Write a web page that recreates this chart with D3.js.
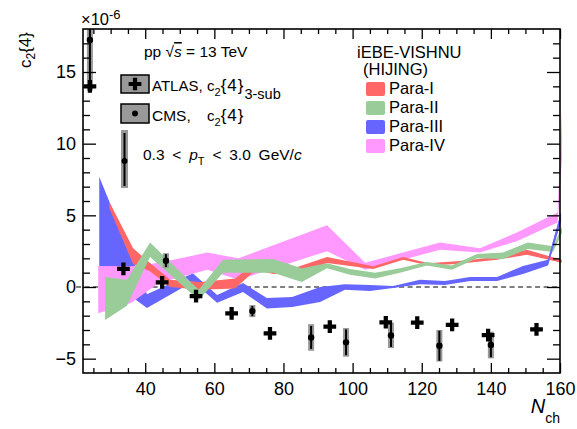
<!DOCTYPE html>
<html>
<head>
<meta charset="utf-8">
<script src="https://cdn.jsdelivr.net/npm/d3@7"></script>
<style>
  body { margin: 0; background: #fff; }
  svg { display: block; }
  text { font-family: "Liberation Sans", Arial, sans-serif; fill: #000; }
</style>
</head>
<body>
<svg id="chart" width="577" height="429"></svg>
<script>
// ---- axis ticks -------------------------------------------------------
const xMajorTicks = [40, 60, 80, 100, 120, 140, 160];
const xMinorTicks = [25, 30, 35, 45, 50, 55, 65, 70, 75, 85, 90, 95, 105, 110, 115, 125, 130, 135, 145, 150, 155];
const yMajorTicks = [-5, 0, 5, 10, 15];
const yMinorTicks = d3.range(-5, 18, 1).filter(v => v % 5 !== 0);

// ---- iEBE-VISHNU (HIJING) bands: [Nch, low, high], c2{4} in 1e-6 ----
const paraI = [
  [29.6, 5.5, 5.95], [36.5, 1.6, 2.7], [41.4, 1.1, 1.67], [47.2, 0.0, 0.5],
  [56, -0.2, 0.35], [66, -0.1, 0.6], [72, 1.2, 1.7], [77, 0.9, 1.4],
  [84, 0.9, 1.4], [92.6, 1.67, 2.1], [106, 1.25, 1.45], [114.6, 1.9, 2.1],
  [122, 1.5, 1.65], [130, 1.6, 1.8], [141.8, 1.9, 2.1], [150.4, 2.25, 2.6],
  [160.5, 1.7, 1.9]
];
const paraII = [
  [28.4, -2.3, 0.7], [34.7, -1.3, 0.5], [41.4, 2.1, 3.1], [55.5, -0.9, -0.2],
  [62.5, 1.0, 1.9], [77, 1.0, 1.95], [85.3, 0.35, 1.3], [92.6, 1.3, 1.65],
  [99.2, 0.85, 1.25], [106.5, 0.6, 1.0], [113.7, 1.0, 1.3], [121.5, 1.5, 1.75],
  [128.7, 1.2, 1.5], [136, 2.0, 2.3], [143.5, 1.95, 2.4], [150.7, 2.65, 3.1],
  [158, 2.45, 2.85], [160.6, 3.8, 4.2]
];
const paraIII = [
  [26.7, 1.0, 7.7], [40.5, -1.47, -0.5], [53.8, 0.37, 0.96], [60.8, -1.1, -0.56],
  [68.3, -0.35, 0.28], [75.2, -1.5, -0.77], [82.5, -1.4, -0.7], [90.6, -1.05, 0.0],
  [97.8, -0.2, 0.2], [105, -0.28, 0.14], [111.7, -0.07, 0.07], [119.5, 0.2, 0.5],
  [126.7, 0.14, 0.42], [134, 0.42, 0.7], [141.8, 0.42, 0.7], [149.3, 0.9, 1.47],
  [156.5, 1.5, 1.9], [160.3, 4.6, 5.2]
];
const paraIV = [
  [26.4, -1.84, 1.47], [36, -1.1, 1.45], [44, 0.3, 1.7], [58, 1.2, 2.4],
  [67, 0.5, 2.0], [92.6, 2.5, 4.3], [103.6, 1.2, 1.7], [114.6, 1.9, 2.4],
  [125.3, 2.6, 3.1], [136.8, 2.4, 2.7], [147.5, 3.2, 3.8], [159.3, 4.5, 5.2],
  [162, 14, 20]
];
const bandNames = ["Para-I", "Para-II", "Para-III", "Para-IV"];
const bandColors = ["#ff6666", "#99cc99", "#6666ff", "#ff99ff"];

// ---- ATLAS c2{4} 3-subevent -----------------------------------------
const atlasNch = [24, 33.7, 44.9, 54.7, 65, 76.1, 93.4, 109.6, 118.7, 128.8, 139.2, 153.2];
const atlasC24 = [14.0, 1.26, 0.33, -0.63, -1.84, -3.23, -2.77, -2.46, -2.49, -2.65, -3.35, -2.95];

// ---- CMS c2{4} --------------------------------------------------------
const cmsNch  = [24, 46, 71, 88, 98.1, 111.1, 125.1, 140];
const cmsC24  = [17.24, 1.84, -1.68, -3.52, -3.86, -3.38, -4.1, -4.05];
const cmsStat = [3.35, 0.45, 0.35, 0.8, 0.9, 0.8, 1.05, 0.85];
const cmsSys  = [3.54, 0.52, 0.42, 0.93, 1.0, 0.88, 1.1, 0.93];

// ---- layout -----------------------------------------------------------
const svg = d3.select("#chart");
const frameL = 83, frameR = 560, frameT = 29, frameB = 373;
const x = d3.scaleLinear().domain([22, 160]).range([frameL, frameR]);
const y = d3.scaleLinear().domain([-6, 18]).range([frameB, frameT]);

const defs = svg.append("defs");
defs.append("clipPath").attr("id", "frameClip")
  .append("rect").attr("x", frameL).attr("y", frameT)
  .attr("width", frameR - frameL).attr("height", frameB - frameT);
defs.append("clipPath").attr("id", "bandClip")
  .append("rect").attr("x", frameL).attr("y", frameT)
  .attr("width", frameR - frameL + 2).attr("height", frameB - frameT);

// helper for text with sub/superscripts
function rich(parent, px, py, size, parts) {
  const t = parent.append("text").attr("x", px).attr("y", py).attr("font-size", size);
  let shift = 0;
  parts.forEach(p => {
    const s = p.shift || 0;
    const ts = t.append("tspan").attr("dy", s - shift).text(p.text);
    shift = s;
    if (p.x !== undefined) ts.attr("x", p.x);
    if (p.size) ts.attr("font-size", p.size);
    if (p.italic) ts.attr("font-style", "italic");
    if (p.over) ts.attr("text-decoration", "overline");
    if (p.ls) ts.attr("letter-spacing", p.ls);
  });
  return t;
}

// zero reference line
svg.append("line")
  .attr("x1", x(20)).attr("x2", x(160)).attr("y1", y(0)).attr("y2", y(0))
  .attr("stroke", "#000").attr("stroke-width", 1.2).attr("stroke-dasharray", "5,3.5");

// model bands
const area = d3.area().x(d => x(d[0])).y0(d => y(d[1])).y1(d => y(d[2]));
const bandData = [paraI, paraII, paraIII, paraIV];
const bands = svg.append("g").attr("clip-path", "url(#bandClip)");
[3, 0, 1, 2].forEach(i => {
  const p = bands.append("path").datum(bandData[i]).attr("d", area)
    .attr("fill", bandColors[i]).attr("stroke", "none");
  // Para-III sits under the others except for its last rising segment
  if (i === 2) p.attr("d", area(bandData[i].slice(-2)));
});
bands.insert("path", ":first-child").datum(paraIII).attr("d", area)
  .attr("fill", bandColors[2]).attr("stroke", "none");

// data markers
const marks = svg.append("g").attr("clip-path", "url(#frameClip)");
cmsNch.forEach((n, i) => {
  marks.append("rect")
    .attr("x", x(n) - 3).attr("width", 6)
    .attr("y", y(cmsC24[i] + cmsSys[i]))
    .attr("height", y(cmsC24[i] - cmsSys[i]) - y(cmsC24[i] + cmsSys[i]))
    .attr("fill", "#999");
  marks.append("line")
    .attr("x1", x(n)).attr("x2", x(n))
    .attr("y1", y(cmsC24[i] + cmsStat[i])).attr("y2", y(cmsC24[i] - cmsStat[i]))
    .attr("stroke", "#000").attr("stroke-width", 2);
  marks.append("circle").attr("cx", x(n)).attr("cy", y(cmsC24[i])).attr("r", 3.2).attr("fill", "#000");
});
const cross = d3.symbol(d3.symbolCross, 90);
atlasNch.forEach((n, i) => {
  marks.append("path").attr("d", cross)
    .attr("transform", `translate(${x(n)},${y(atlasC24[i])})`).attr("fill", "#000");
});

// axes (ticks drawn inward)
function styleAxis(g) {
  g.selectAll(".domain").remove();
  g.selectAll(".tick line").attr("stroke", "#000").attr("stroke-width", 1.3);
  g.selectAll("text").attr("font-size", 18).attr("font-family", "'Liberation Sans', Arial, sans-serif");
}
svg.append("g").attr("transform", `translate(0,${frameB})`)
  .call(d3.axisBottom(x).tickValues(xMajorTicks).tickSize(-10).tickPadding(9.5).tickFormat(d3.format("d")))
  .call(styleAxis);
svg.append("g").attr("transform", `translate(0,${frameB})`)
  .call(d3.axisBottom(x).tickValues(xMinorTicks).tickSize(-5).tickFormat(""))
  .call(styleAxis);
svg.append("g").attr("transform", `translate(0,${frameT})`)
  .call(d3.axisTop(x).tickValues(xMajorTicks).tickSize(-10).tickFormat(""))
  .call(styleAxis);
svg.append("g").attr("transform", `translate(0,${frameT})`)
  .call(d3.axisTop(x).tickValues(xMinorTicks).tickSize(-5).tickFormat(""))
  .call(styleAxis);
svg.append("g").attr("transform", `translate(${frameL},0)`)
  .call(d3.axisLeft(y).tickValues(yMajorTicks).tickSize(-13).tickPadding(7).tickFormat(d3.format("d")))
  .call(styleAxis);
svg.append("g").attr("transform", `translate(${frameL},0)`)
  .call(d3.axisLeft(y).tickValues(yMinorTicks).tickSize(-7).tickFormat(""))
  .call(styleAxis);
svg.append("g").attr("transform", `translate(${frameR},0)`)
  .call(d3.axisRight(y).tickValues(yMajorTicks).tickSize(-13).tickFormat(""))
  .call(styleAxis);
svg.append("g").attr("transform", `translate(${frameR},0)`)
  .call(d3.axisRight(y).tickValues(yMinorTicks).tickSize(-7).tickFormat(""))
  .call(styleAxis);

// frame
svg.append("rect").attr("x", frameL).attr("y", frameT)
  .attr("width", frameR - frameL).attr("height", frameB - frameT)
  .attr("fill", "none").attr("stroke", "#000").attr("stroke-width", 1.6);

// axis titles and exponent
rich(svg, 81, 25, 16.5, [{ text: "×10" }, { text: "-6", size: 13, shift: -6 }]);
rich(svg.append("g").attr("transform", "translate(31,32) rotate(-90)"), 0, 0, 17,
  [{ text: "c" }, { text: "2", size: 12, shift: 4 }, { text: "{4}" }]).attr("text-anchor", "end");
rich(svg, 560, 413, 20, [{ text: "N", italic: true }, { text: "ch", size: 14, shift: 10 }]).attr("text-anchor", "end");

// experimental legend
rich(svg, 144, 57, 15.5, [{ text: "pp  √" }, { text: "s", italic: true, over: true }, { text: " = 13 TeV" }]);
svg.append("rect").attr("x", 121).attr("y", 75).attr("width", 28).attr("height", 18)
  .attr("fill", "#999").attr("stroke", "#000").attr("stroke-width", 1.5);
svg.append("path").attr("d", cross).attr("transform", "translate(135,84)").attr("fill", "#000");
rich(svg, 152, 91, 15, [{ text: "ATLAS," }, { text: "c", x: 207 }, { text: "2", size: 11, shift: 5 },
  { text: "{4}", size: 17, ls: 1 }, { text: "3-sub", size: 14.5, shift: 8 }]);
svg.append("rect").attr("x", 121).attr("y", 104).attr("width", 28).attr("height", 19)
  .attr("fill", "#999").attr("stroke", "#000").attr("stroke-width", 1.5);
svg.append("circle").attr("cx", 135).attr("cy", 113.5).attr("r", 3).attr("fill", "#000");
rich(svg, 152, 121, 15.5, [{ text: "CMS," }]);
rich(svg, 207, 121, 15, [{ text: "c" }, { text: "2", size: 11, shift: 5 }, { text: "{4}", size: 17, ls: 1 }]);
svg.append("rect").attr("x", 121).attr("y", 130).attr("width", 7).attr("height", 58).attr("fill", "#999");
svg.append("line").attr("x1", 124.5).attr("x2", 124.5).attr("y1", 133).attr("y2", 186)
  .attr("stroke", "#000").attr("stroke-width", 2);
svg.append("circle").attr("cx", 124.5).attr("cy", 161).attr("r", 3).attr("fill", "#000");
rich(svg, 143, 160, 15.5, [{ text: "0.3 < " }, { text: "p", italic: true }, { text: "T", size: 11, shift: 5 },
  { text: " < 3.0 GeV/" }, { text: "c", italic: true }]).attr("word-spacing", 3.5);

// model legend
rich(svg, 357, 58, 16.5, [{ text: "iEBE-VISHNU" }]);
rich(svg, 363, 75, 16.5, [{ text: "(HIJING)" }]);
bandNames.forEach((name, i) => {
  const ry = 82 + i * 19;
  svg.append("rect").attr("x", 366).attr("y", ry).attr("width", 19).attr("height", 14)
    .attr("rx", 2).attr("fill", bandColors[i]);
  rich(svg, 389, ry + 12, 16.5, [{ text: name }]);
});
</script>
</body>
</html>
